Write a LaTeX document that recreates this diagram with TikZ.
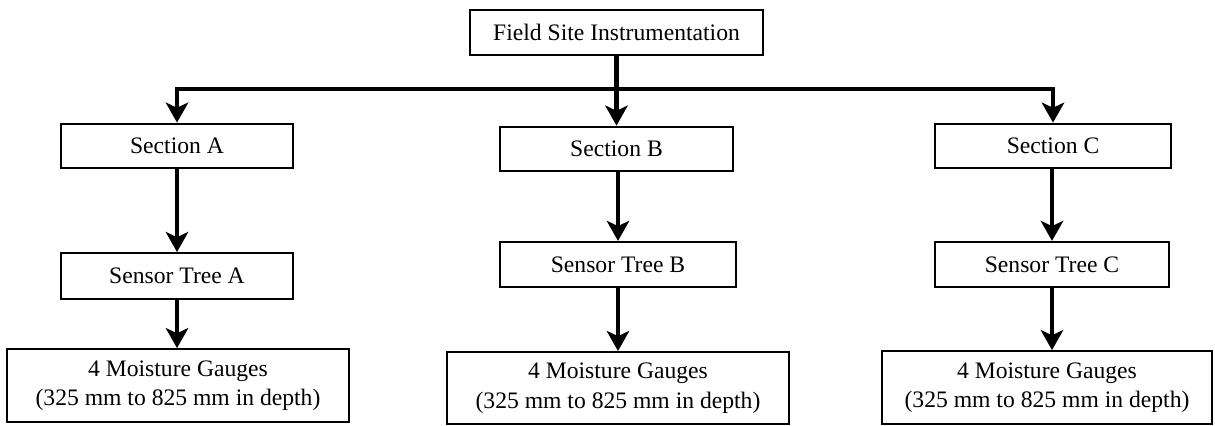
\documentclass[tikz,border=0pt]{standalone}
\usepackage{fontspec}
\setmainfont{Liberation Serif}
\usetikzlibrary{arrows.meta}

\begin{document}
\begin{tikzpicture}[x=0.025cm,y=-0.025cm,>={Stealth[length=5mm,width=5.6mm,inset=1.3mm]},
  box/.style={draw,line width=1.4pt,inner sep=0pt,align=center,font=\fontsize{16.8}{21}\selectfont},
  link/.style={line width=2.9pt}]
\useasboundingbox (0,0) rectangle (1215,426);
\node[box,minimum width=7.33cm,minimum height=1.13cm] (top) at (616.5,32.5) {Field Site Instrumentation};
\node[box,minimum width=5.8cm,minimum height=1.12cm] (secA) at (177,146) {Section A};
\node[box,minimum width=5.8cm,minimum height=1.12cm] (secB) at (616.5,149) {Section B};
\node[box,minimum width=5.9cm,minimum height=1.12cm] (secC) at (1053,146) {Section C};
\node[box,minimum width=5.8cm,minimum height=1.15cm] (sensA) at (177,276) {Sensor Tree A};
\node[box,minimum width=5.9cm,minimum height=1.13cm] (sensB) at (618,264.5) {Sensor Tree B};
\node[box,minimum width=5.83cm,minimum height=1.13cm] (sensC) at (1052,264.5) {Sensor Tree C};
\node[box,minimum width=8.55cm,minimum height=1.82cm] (moistA) at (178,385.5) {4 Moisture Gauges\\(325 mm to 825 mm in depth)};
\node[box,minimum width=8.55cm,minimum height=1.8cm] (moistB) at (618,388) {4 Moisture Gauges\\(325 mm to 825 mm in depth)};
\node[box,minimum width=8.25cm,minimum height=1.82cm] (moistC) at (1047,387.5) {4 Moisture Gauges\\(325 mm to 825 mm in depth)};
% bus line under the top box
\coordinate (busA) at (177,89);
\coordinate (busC) at (1053,89);
\draw[link,line cap=rect] (busA) -- (busC);
\draw[link,->] (top) -- (secB);
\draw[link,->] (busA) -- (secA);
\draw[link,->] (busC) -- (secC);
% sections down to the gauges
\draw[link,->] (secA) -- (sensA);
\draw[link,->] (secB.south -| sensB) -- (sensB);
\draw[link,->] (secC.south -| sensC) -- (sensC);
\draw[link,->] (sensA) -- (sensA |- moistA.north);
\draw[link,->] (sensB) -- (sensB |- moistB.north);
\draw[link,->] (sensC) -- (sensC |- moistC.north);
\end{tikzpicture}
\end{document}
